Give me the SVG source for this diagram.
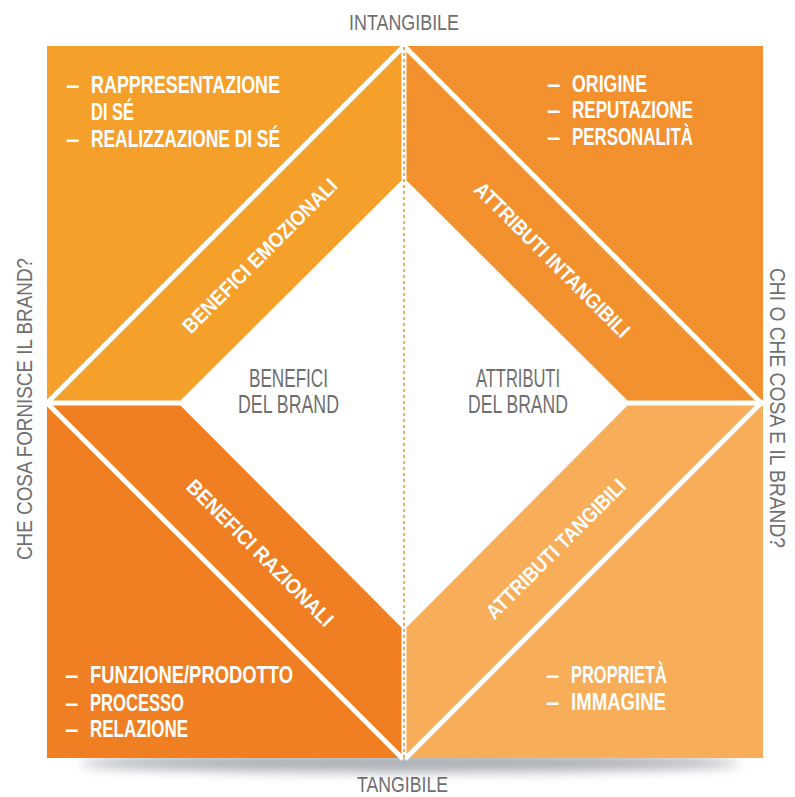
<svg xmlns="http://www.w3.org/2000/svg" width="795" height="797" viewBox="0 0 795 797">
  <defs>
    <filter id="soft" x="-20%" y="-200%" width="140%" height="500%">
      <feGaussianBlur stdDeviation="6"/>
    </filter>
    <style>
      .gray { font-family: "Liberation Sans", Arial, sans-serif; fill: #6e6e70; font-size: 22px; }
      .mid { font-size: 25px; }
      .item { font-family: "Liberation Sans", Arial, sans-serif; font-weight: bold; fill: #ffffff; font-size: 24px; }
      .band { font-family: "Liberation Sans", Arial, sans-serif; font-weight: bold; fill: #ffffff; font-size: 21px; text-anchor: middle; }
      .sep { stroke: #ffffff; stroke-width: 5; fill: none; stroke-linecap: butt; }
      .axis { stroke: #f7941d; stroke-width: 1.6; stroke-dasharray: 3 3; fill: none; }
    </style>
  </defs>

  <rect width="795" height="797" fill="#ffffff"/>

  <!-- ground shadow under the square -->
  <ellipse cx="410" cy="763" rx="330" ry="9" fill="#8a9098" opacity="0.75" filter="url(#soft)"/>

  <!-- quadrants -->
  <g id="benefici-emozionali">
    <polygon points="47,46 404,46 404,178 178,403 47,403" fill="#f6a02c"/>
  </g>
  <g id="attributi-intangibili">
    <polygon points="404,46 763,46 763,403 630,403 404,178" fill="#f3912f"/>
  </g>
  <g id="benefici-razionali">
    <polygon points="47,403 178,403 404,630 404,758 47,758" fill="#ef7f22"/>
  </g>
  <g id="attributi-tangibili">
    <polygon points="630,403 763,403 763,758 404,758 404,630" fill="#f8ad58"/>
  </g>

  <!-- separators and central axis -->
  <g id="connectors">
    <line class="sep" x1="47" y1="403" x2="404" y2="46"/>
    <line class="sep" x1="404" y1="46" x2="763" y2="405"/>
    <line class="sep" x1="47" y1="403" x2="403" y2="759"/>
    <line class="sep" x1="405" y1="759" x2="763" y2="401"/>
    <line class="sep" x1="47" y1="403" x2="180" y2="403"/>
    <line class="sep" x1="628" y1="403" x2="763" y2="403"/>
    <line class="sep" x1="404" y1="46" x2="404" y2="180"/>
    <line class="sep" x1="404" y1="628" x2="404" y2="758"/>
    <line class="axis" x1="404" y1="47" x2="404" y2="758"/>
  </g>

  <!-- axis labels -->
  <g id="axis-labels">
    <text class="gray" x="349" y="30" textLength="110" lengthAdjust="spacingAndGlyphs">INTANGIBILE</text>
    <text class="gray" x="357" y="792" textLength="91" lengthAdjust="spacingAndGlyphs">TANGIBILE</text>
    <text class="gray" transform="translate(32,560) rotate(-90)" x="0" y="0" textLength="302" lengthAdjust="spacingAndGlyphs">CHE COSA FORNISCE IL BRAND?</text>
    <text class="gray" transform="translate(770,268) rotate(90)" x="0" y="0" textLength="280" lengthAdjust="spacingAndGlyphs">CHI O CHE COSA E IL BRAND?</text>
  </g>

  <!-- centre labels -->
  <g id="centre-labels">
    <text class="gray mid" x="249" y="387" textLength="79" lengthAdjust="spacingAndGlyphs">BENEFICI</text>
    <text class="gray mid" x="238" y="413" textLength="101" lengthAdjust="spacingAndGlyphs">DEL BRAND</text>
    <text class="gray mid" x="476" y="387" textLength="84" lengthAdjust="spacingAndGlyphs">ATTRIBUTI</text>
    <text class="gray mid" x="468" y="413" textLength="100" lengthAdjust="spacingAndGlyphs">DEL BRAND</text>
  </g>

  <!-- band titles -->
  <g id="band-titles">
    <text class="band" transform="translate(260,256) rotate(-45)" x="0" y="7" textLength="209" lengthAdjust="spacingAndGlyphs">BENEFICI EMOZIONALI</text>
    <text class="band" transform="translate(552,260) rotate(45)" x="0" y="7" textLength="210" lengthAdjust="spacingAndGlyphs">ATTRIBUTI INTANGIBILI</text>
    <text class="band" transform="translate(260,553) rotate(45)" x="0" y="7" textLength="198" lengthAdjust="spacingAndGlyphs">BENEFICI RAZIONALI</text>
    <text class="band" transform="translate(556,549) rotate(-45)" x="0" y="7" textLength="188" lengthAdjust="spacingAndGlyphs">ATTRIBUTI TANGIBILI</text>
  </g>

  <!-- item lists -->
  <g id="list-emozionali">
    <text class="item" x="66" y="93">–</text>
    <text class="item" x="91" y="93" textLength="189" lengthAdjust="spacingAndGlyphs">RAPPRESENTAZIONE</text>
    <text class="item" x="91" y="120" textLength="43" lengthAdjust="spacingAndGlyphs">DI SÉ</text>
    <text class="item" x="66" y="147">–</text>
    <text class="item" x="91" y="147" textLength="189" lengthAdjust="spacingAndGlyphs">REALIZZAZIONE DI SÉ</text>
  </g>
  <g id="list-intangibili">
    <text class="item" x="547" y="92">–</text>
    <text class="item" x="572" y="92" textLength="75" lengthAdjust="spacingAndGlyphs">ORIGINE</text>
    <text class="item" x="547" y="118">–</text>
    <text class="item" x="572" y="118" textLength="121" lengthAdjust="spacingAndGlyphs">REPUTAZIONE</text>
    <text class="item" x="547" y="145">–</text>
    <text class="item" x="572" y="145" textLength="121" lengthAdjust="spacingAndGlyphs">PERSONALITÀ</text>
  </g>
  <g id="list-razionali">
    <text class="item" x="65" y="683">–</text>
    <text class="item" x="90" y="683" textLength="203" lengthAdjust="spacingAndGlyphs">FUNZIONE/PRODOTTO</text>
    <text class="item" x="65" y="711">–</text>
    <text class="item" x="90" y="711" textLength="94" lengthAdjust="spacingAndGlyphs">PROCESSO</text>
    <text class="item" x="65" y="737">–</text>
    <text class="item" x="90" y="737" textLength="98" lengthAdjust="spacingAndGlyphs">RELAZIONE</text>
  </g>
  <g id="list-tangibili">
    <text class="item" x="546" y="683">–</text>
    <text class="item" x="571" y="683" textLength="96" lengthAdjust="spacingAndGlyphs">PROPRIETÀ</text>
    <text class="item" x="546" y="710">–</text>
    <text class="item" x="571" y="710" textLength="95" lengthAdjust="spacingAndGlyphs">IMMAGINE</text>
  </g>
</svg>
